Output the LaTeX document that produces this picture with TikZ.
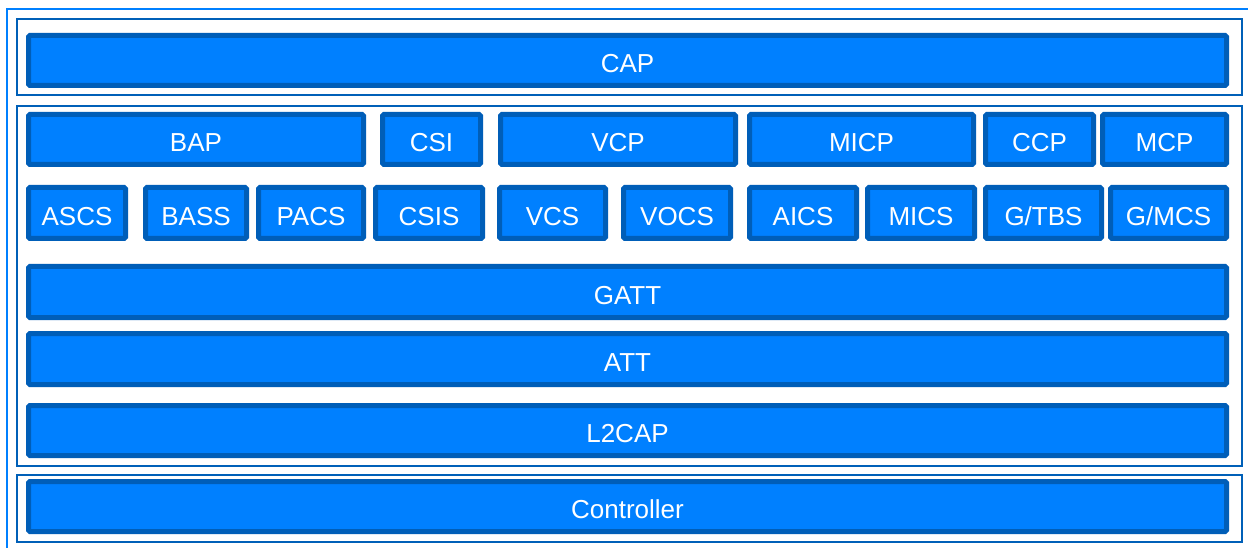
\documentclass[tikz,border=0pt]{standalone}
\usepackage{fontspec}
\setmainfont{Liberation Sans}
\definecolor{barfill}{RGB}{0,128,255}
\definecolor{bardraw}{RGB}{0,94,184}
\definecolor{grpdraw}{RGB}{0,96,184}
\definecolor{outerline}{RGB}{0,128,255}
\tikzset{
  bar/.style={draw=bardraw, fill=barfill, line width=5pt, rounded corners=1.5pt,
    inner sep=0pt, outer sep=0pt, text=white, font=\fontsize{26}{30}\selectfont,
    text height=24.6pt, text depth=0pt},
  grp/.style={draw=grpdraw, line width=2pt, inner sep=0pt, outer sep=0pt}
}
\newcommand\bx[6]{\node[bar, minimum width={(#4-#2-5)*1pt}, minimum height={(#5-#3-5)*1pt}] (#1) at ({(#2+#4)/2},{(#3+#5)/2}) {#6};}
\newcommand\gbox[5]{\node[grp, minimum width={(#4-#2-2)*1pt}, minimum height={(#5-#3-2)*1pt}] (#1) at ({(#2+#4)/2},{(#3+#5)/2}) {};}
\begin{document}
\begin{tikzpicture}[x=1pt,y=-1pt]
\useasboundingbox (0,0) rectangle (1248,548);
\clip (0,0) rectangle (1248,548);
\fill[white] (0,0) rectangle (1248,548);
% outer frame (extends beyond the picture)
\node[draw=outerline, line width=2pt, minimum width=1260pt, minimum height=560pt, inner sep=0pt, anchor=north west] (frame) at (6,8) {};
% group boxes
\gbox{gcap}{16}{18}{1243}{96}
\gbox{gmid}{16}{105}{1243}{467}
\gbox{gctl}{16}{474}{1243}{543}
% CAP
\bx{cap}{26}{33}{1229}{88}{CAP}
% row 1
\bx{bap}{26}{112}{366}{167}{BAP}
\bx{csi}{380}{112}{483}{167}{CSI}
\bx{vcp}{498}{112}{738}{167}{VCP}
\bx{micp}{747}{112}{976}{167}{MICP}
\bx{ccp}{983}{112}{1096}{167}{CCP}
\bx{mcp}{1100}{112}{1229}{167}{MCP}
% row 2
\bx{ascs}{26}{185}{128}{241}{ASCS}
\bx{bass}{143}{185}{249}{241}{BASS}
\bx{pacs}{256}{185}{366}{241}{PACS}
\bx{csis}{373}{185}{485}{241}{CSIS}
\bx{vcs}{497}{185}{608}{241}{VCS}
\bx{vocs}{621}{185}{733}{241}{VOCS}
\bx{aics}{747}{185}{859}{241}{AICS}
\bx{mics}{865}{185}{977}{241}{MICS}
\bx{gtbs}{983}{185}{1104}{241}{G/TBS}
\bx{gmcs}{1108}{185}{1229}{241}{G/MCS}
% stack
\bx{gatt}{26}{264}{1229}{320}{GATT}
\bx{att}{26}{331}{1229}{387}{ATT}
\bx{l2cap}{26}{403}{1229}{458}{L2CAP}
% controller
\bx{ctl}{26}{479}{1229}{534}{Controller}
\end{tikzpicture}
\end{document}
